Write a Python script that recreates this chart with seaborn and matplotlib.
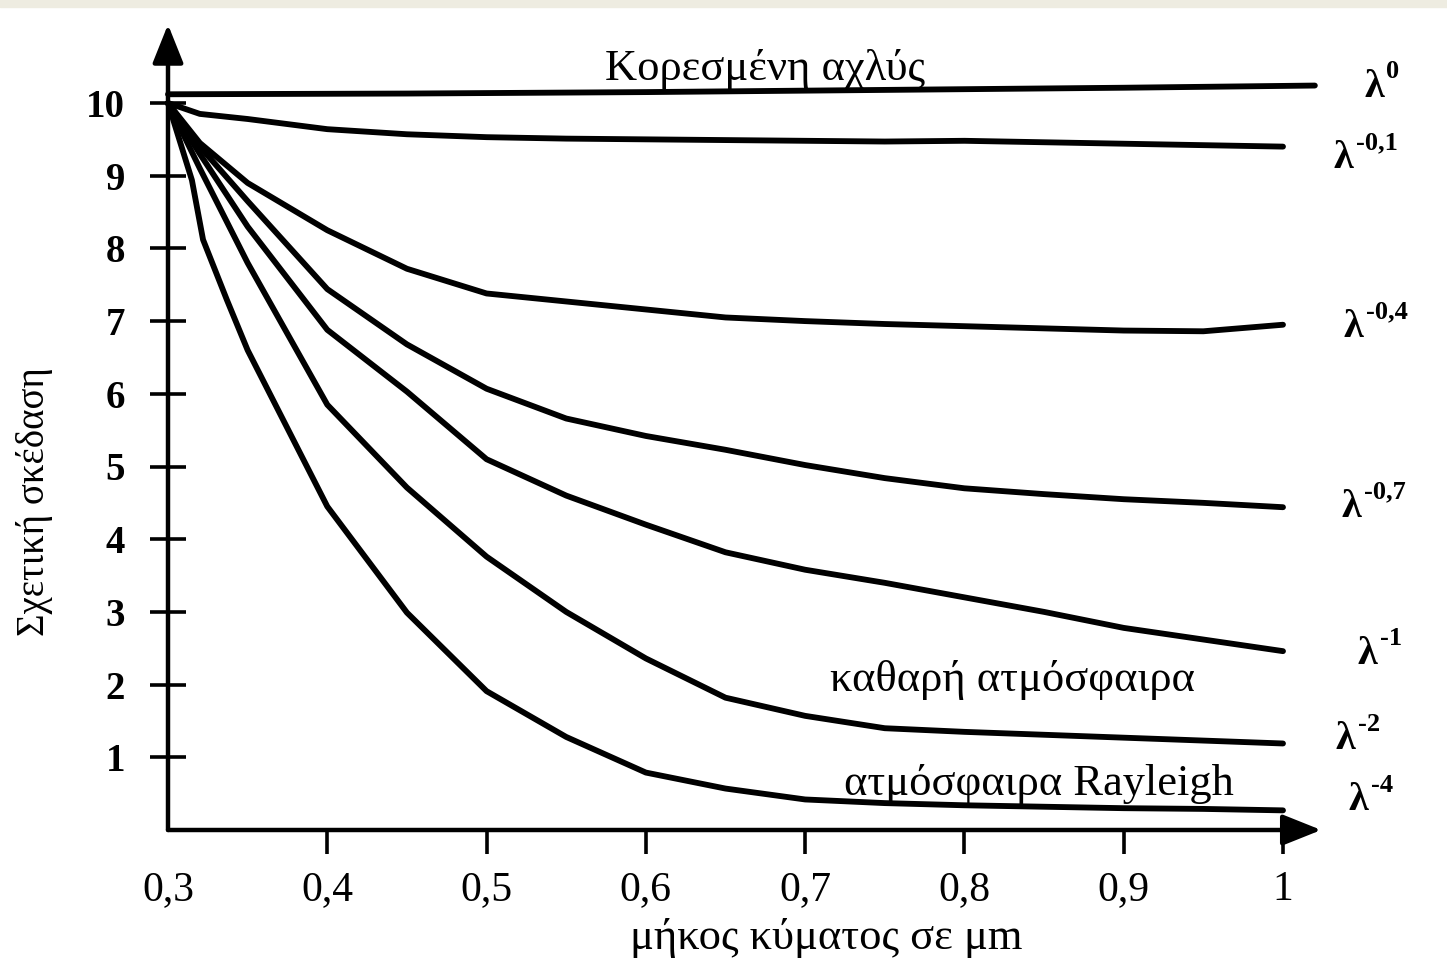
import numpy as np
import pandas as pd
import matplotlib
matplotlib.use("Agg")
import matplotlib.pyplot as plt
from matplotlib.patches import Rectangle
import seaborn as sns

# ---------------- data ----------------
wavelength = [0.30, 0.32, 0.35, 0.40, 0.45, 0.50, 0.55, 0.60, 0.65, 0.70,
              0.75, 0.80, 0.85, 0.90, 0.95, 1.00]
lam0_x = [0.30, 0.45, 0.60, 0.75, 0.90, 1.02]
lam0 = [10.12, 10.13, 10.15, 10.18, 10.21, 10.24]
lam_01 = [10.0, 9.85, 9.78, 9.64, 9.57, 9.53, 9.51, 9.50, 9.49, 9.48,
          9.47, 9.48, 9.46, 9.44, 9.42, 9.40]
lam_04 = [10.0, 9.45, 8.90, 8.25, 7.72, 7.38, 7.27, 7.16, 7.05, 7.00,
          6.96, 6.93, 6.90, 6.87, 6.86, 6.95]
lam_07 = [10.0, 9.40, 8.65, 7.44, 6.68, 6.07, 5.66, 5.42, 5.23, 5.02,
          4.84, 4.70, 4.62, 4.55, 4.50, 4.44]
lam_1 = [10.0, 9.30, 8.30, 6.88, 6.03, 5.10, 4.60, 4.20, 3.82, 3.58,
         3.40, 3.20, 3.00, 2.78, 2.62, 2.46]
lam_2 = [10.0, 9.10, 7.80, 5.85, 4.71, 3.76, 3.00, 2.36, 1.82, 1.57,
         1.40, 1.35, 1.31, 1.27, 1.23, 1.19]
lam4_x = [0.30, 0.315, 0.322, 0.337, 0.35, 0.40, 0.45, 0.50, 0.55, 0.60,
          0.65, 0.70, 0.75, 0.80, 0.85, 0.90, 0.95, 1.00]
lam_4 = [10.0, 8.94, 8.12, 7.29, 6.60, 4.45, 2.99, 1.91, 1.28, 0.79,
         0.57, 0.42, 0.37, 0.34, 0.32, 0.30, 0.29, 0.27]

series_names = ["λ0", "λ-0,1", "λ-0,4", "λ-0,7", "λ-1", "λ-2", "λ-4"]
series_exponents = ["0", "-0,1", "-0,4", "-0,7", "-1", "-2", "-4"]
label_pos = [(1.051, 10.22), (1.032, 9.24), (1.038, 6.91), (1.037, 4.44),
             (1.047, 2.42), (1.033, 1.24), (1.041, 0.40)]

x_ticks = [0.3, 0.4, 0.5, 0.6, 0.7, 0.8, 0.9, 1.0]
x_ticklabels = ["0,3", "0,4", "0,5", "0,6", "0,7", "0,8", "0,9", "1"]
y_ticks = [1, 2, 3, 4, 5, 6, 7, 8, 9, 10]

xlabel = "μήκος κύματος σε μm"
ylabel = "Σχετική σκέδαση"
ann_haze = "Κορεσμένη αχλύς"
ann_clear = "καθαρή ατμόσφαιρα"
ann_rayleigh = "ατμόσφαιρα Rayleigh"

frames = [pd.DataFrame({"wl": lam0_x, "val": lam0, "series": series_names[0]})]
for name, vals in zip(series_names[1:6], [lam_01, lam_04, lam_07, lam_1, lam_2]):
    frames.append(pd.DataFrame({"wl": wavelength, "val": vals, "series": name}))
frames.append(pd.DataFrame({"wl": lam4_x, "val": lam_4, "series": series_names[6]}))
df = pd.concat(frames, ignore_index=True)

# ---------------- style ----------------
sns.set_theme(style="white")
plt.rcParams["font.family"] = ["Liberation Serif", "DejaVu Serif"]
for key in ["text.color", "axes.labelcolor", "xtick.color", "ytick.color"]:
    plt.rcParams[key] = "black"

W, H = 1447, 958
fig = plt.figure(figsize=(W / 100, H / 100), dpi=100)
fig.patch.set_facecolor("white")
fig.patches.append(Rectangle((0, 1 - 7 / H), 1, 7 / H, transform=fig.transFigure,
                             color="#eeece1", zorder=0))

# axes geometry: x 0.3 -> px 168, 1.0 -> px 1283 ; y 0 -> px 830, 10 -> px 103
px_per_x = (1283 - 168) / 0.7
px_per_y = (830 - 103) / 10.0
xmax, ymax = 1.045, 11.2
left = 168 / W
width = (xmax - 0.3) * px_per_x / W
bottom = (H - 830) / H
height = ymax * px_per_y / H
ax = fig.add_axes([left, bottom, width, height])
ax.set_xlim(0.3, xmax)
ax.set_ylim(0, ymax)
ax.patch.set_alpha(0)

sns.lineplot(data=df, x="wl", y="val", hue="series", hue_order=series_names,
             palette=["black"] * len(series_names), legend=False, sort=False,
             errorbar=None, linewidth=4.2, ax=ax, clip_on=False)

for s in ax.spines.values():
    s.set_visible(False)

# axes with arrows
arrow_style = "-|>,head_length=0.85,head_width=0.34"
ax.annotate("", xy=(1.024, 0), xytext=(0.3, 0), xycoords="data",
            arrowprops=dict(arrowstyle=arrow_style, lw=3.2, color="black",
                            mutation_scale=28, shrinkA=0, shrinkB=0),
            annotation_clip=False)
ax.annotate("", xy=(0.3, 11.08), xytext=(0.3, 0), xycoords="data",
            arrowprops=dict(arrowstyle=arrow_style, lw=3.2, color="black",
                            mutation_scale=28, shrinkA=0, shrinkB=0),
            annotation_clip=False)

ax.set_xticks(x_ticks)
ax.set_xticklabels(x_ticklabels, fontsize=30)
ax.set_yticks(y_ticks)
ax.set_yticklabels([str(v) for v in y_ticks], fontweight="bold", fontsize=28)
ax.tick_params(axis="x", direction="out", length=17, width=2.6, pad=12,
               colors="black", bottom=True)
ax.tick_params(axis="y", direction="inout", length=26, width=2.6, pad=18,
               colors="black", left=True)
ax.xaxis.get_major_ticks()[0].tick1line.set_visible(False)

ax.set_xlabel("")
ax.set_ylabel("")
fig.text(826 / W, 1 - 938 / H, xlabel, ha="center", va="center", fontsize=32)
fig.text(35 / W, 1 - 502 / H, ylabel, ha="center", va="center", fontsize=28,
         rotation=90)

ax.text(0.675, 10.47, ann_haze, ha="center", va="center", fontsize=32)
ax.text(0.83, 2.07, ann_clear, ha="center", va="center", fontsize=32)
ax.text(0.847, 0.63, ann_rayleigh, ha="center", va="center", fontsize=32)

for exp, (lx, ly) in zip(series_exponents, label_pos):
    ax.text(lx, ly, "λ", ha="left", va="center", fontsize=29,
            fontweight="bold", clip_on=False)
    ax.annotate(exp, xy=(lx, ly), xycoords="data", xytext=(16, 3),
                textcoords="offset points", ha="left", va="bottom",
                fontsize=19, fontweight="bold", annotation_clip=False)

fig.savefig("out.png", dpi=100, facecolor="white")
